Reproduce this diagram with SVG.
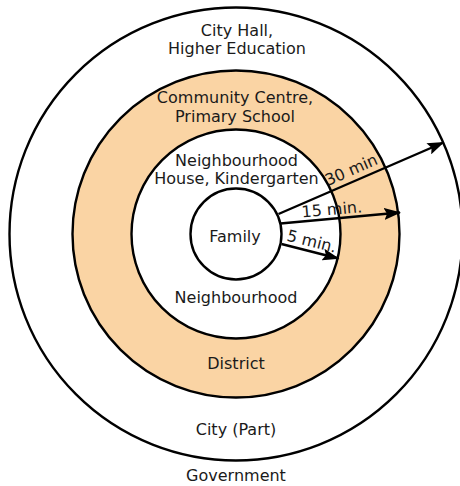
<svg xmlns="http://www.w3.org/2000/svg" width="460" height="486" viewBox="0 0 460 486">
<defs>
<style>
.ring{stroke:#000;stroke-width:2.4}
.w{fill:#fff}
.o{fill:#FAD4A4}
text{font-family:"DejaVu Sans","Verdana",sans-serif;font-size:16px;fill:#1a1a1a}
.c{text-anchor:middle}
.arr{stroke:#000;stroke-width:2.4;fill:none;marker-end:url(#ah)}
</style>
<marker id="ah" markerUnits="userSpaceOnUse" markerWidth="17" markerHeight="12" refX="16" refY="6" orient="auto">
<path d="M0,0 L17,6 L0,12 L3,6 Z" fill="#000"/>
</marker>
</defs>
<rect width="460" height="486" fill="#fff"/>
<g id="city">
<circle class="ring w" cx="236" cy="234" r="226.5"/>
<text class="c" x="237" y="35.5">City Hall,</text>
<text class="c" x="237" y="54">Higher Education</text>
<text class="c" x="236" y="435">City (Part)</text>
</g>
<g id="district">
<circle class="ring o" cx="236" cy="234" r="163.5"/>
<text class="c" x="235" y="103">Community Centre,</text>
<text class="c" x="235" y="121.5">Primary School</text>
<text class="c" x="236" y="369">District</text>
</g>
<g id="neighbourhood">
<circle class="ring w" cx="236" cy="234" r="104.5"/>
<text class="c" x="236.5" y="165.5">Neighbourhood</text>
<text class="c" x="236.5" y="183.5">House, Kindergarten</text>
<text class="c" x="236" y="302.5">Neighbourhood</text>
</g>
<g id="family">
<circle class="ring w" cx="236" cy="234" r="45.5"/>
<text class="c" x="235" y="241.5">Family</text>
</g>
<g id="government">
<text class="c" x="236" y="481">Government</text>
</g>
<g id="connectors">
<line class="arr" x1="278.5" y1="214" x2="443.5" y2="142.5"/>
<line class="arr" x1="280.5" y1="223.5" x2="400" y2="212.5"/>
<line class="arr" x1="281.5" y1="244" x2="338.5" y2="258.5"/>
<text transform="translate(328,186) rotate(-23.8)">30 min</text>
<text transform="translate(302,217.5) rotate(-5)">15 min.</text>
<text transform="translate(286,240.5) rotate(14)">5 min.</text>
</g>
</svg>
